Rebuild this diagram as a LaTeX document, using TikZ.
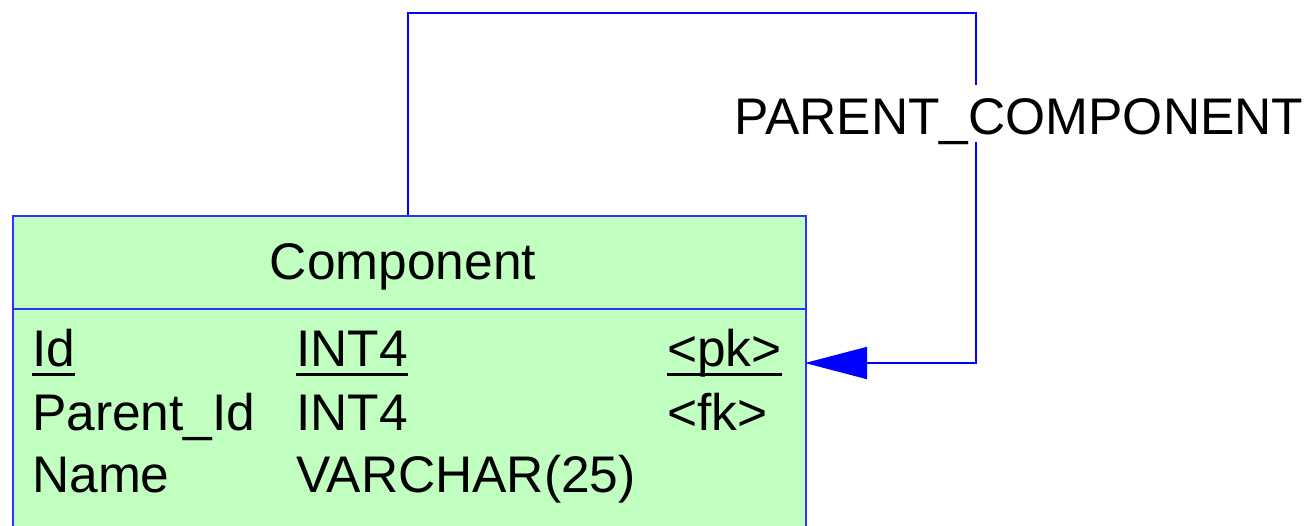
\documentclass[tikz,border=0pt]{standalone}
\usepackage{fontspec}
\setmainfont{Liberation Sans}
\usetikzlibrary{arrows.meta}
\definecolor{tablegreen}{HTML}{C0FFC0}
\definecolor{lineblue}{HTML}{0000FF}
\definecolor{boxblue}{HTML}{3030FF}
\tikzset{
  txt/.style={inner sep=0pt, anchor=base west, font=\fontsize{51.5}{60}\selectfont},
  ul/.style={line width=3pt, black},
  conn/.style={draw=lineblue, line width=1.6pt},
}
\begin{document}
\begin{tikzpicture}[x=1pt,y=-1pt]
\useasboundingbox (0,0) rectangle (1315,525);
\clip (0,0) rectangle (1315,525);
% table
\node[draw=boxblue, fill=tablegreen, line width=1.6pt, minimum width=793pt, minimum height=330pt, anchor=north west, inner sep=0pt] (tbl) at (12,215) {};
\coordinate (sepL) at (12,309);
\coordinate (sepR) at (805,309);
\draw[boxblue, line width=1.6pt] (sepL) -- (sepR);
\node[txt, anchor=base] (title) at (403,279) {Component};
\node[txt] (c11) at (32,366) {Id};
\node[txt] (c12) at (296,366) {INT4};
\node[txt] (c13) at (667,366) {<pk>};
\node[txt] (c21) at (32,430) {Parent\_Id};
\node[txt] (c22) at (296,430) {INT4};
\node[txt] (c23) at (667,430) {<fk>};
\node[txt] (c31) at (32,492) {Name};
\node[txt] (c32) at (296,492) {VARCHAR(25)};
\draw[ul] ([yshift=-8pt]c11.base west) -- ([yshift=-8pt]c11.base east);
\draw[ul] ([yshift=-8pt]c12.base west) -- ([yshift=-8pt]c12.base east);
\draw[ul] ([yshift=-8pt]c13.base west) -- ([yshift=-8pt]c13.base east);
% self relation
\coordinate (p0) at (408,215);
\coordinate (p1) at (408,13);
\coordinate (p2) at (976,13);
\coordinate (p3) at (976,363);
\coordinate (p4) at (805,363);
\draw[conn, -{Triangle[length=62pt,width=32pt]}] (p0) -- (p1) -- (p2) -- (p3) -- (p4);
\node[txt, anchor=base, fill=white, inner xsep=0pt, inner ysep=2pt, text height=47pt, text depth=6pt] (lbl) at (1019,134) {PARENT\_COMPONENT};
\end{tikzpicture}
\end{document}
